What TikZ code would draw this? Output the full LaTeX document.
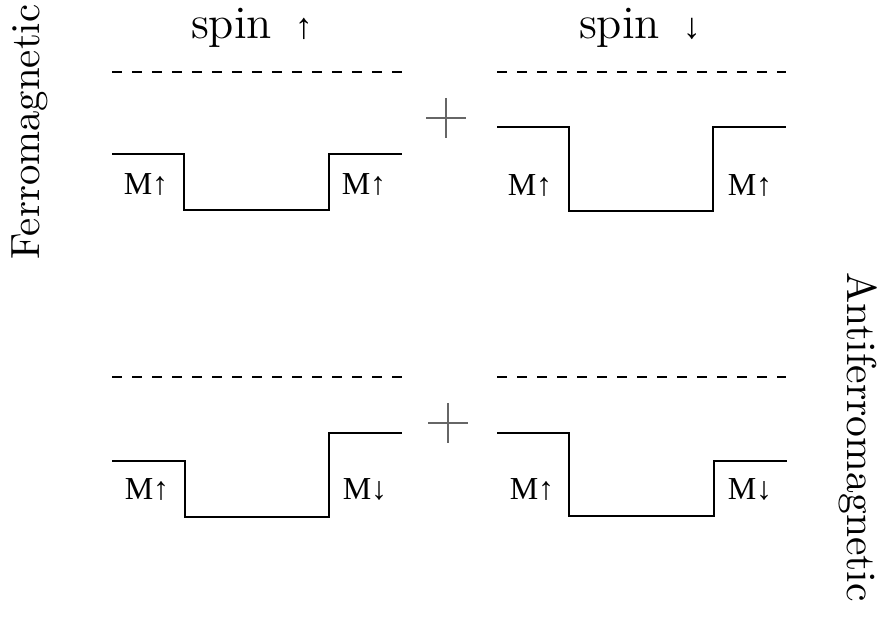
\documentclass[tikz,border=0pt]{standalone}
\usepackage{fontspec}
\newfontfamily\mfont{Liberation Serif}
\usetikzlibrary{positioning}

\begin{document}
\begin{tikzpicture}[x=0.25pt, y=-0.25pt,
    level/.style={line width=0.55pt},
    vacuum/.style={line width=0.55pt, dash pattern=on 2.5pt off 2.5pt},
    mlabel/.style={font=\fontsize{8}{9}\mfont, inner sep=0pt},
    sidelabel/.style={font=\fontsize{10.2}{12}\selectfont, inner sep=0pt},
    plussign/.style={draw=black!60, line width=0.55pt}]
    \useasboundingbox (0,0) rectangle (889,630);

    % Column titles
    \node[font=\fontsize{11.6}{14}\selectfont] (spinup) at (252,28) {spin\, {\mfont\fontsize{9}{10}\selectfont ↑}};
    \node[font=\fontsize{11.6}{14}\selectfont] (spindn) at (640,28) {spin\, {\mfont\fontsize{9}{10}\selectfont ↓}};

    % Side titles
    \node[sidelabel, rotate=90] (ferro) at (30,132) {Ferromagnetic};
    \node[sidelabel, rotate=-90, font=\fontsize{10.4}{12}\selectfont] (antiferro) at (858,437) {Antiferromagnetic};

    % Vacuum levels
    \draw[vacuum] (112,72) -- (402,72);
    \draw[vacuum] (497,72) -- (786,72);
    \draw[vacuum] (112,377) -- (402,377);
    \draw[vacuum] (497,377) -- (786,377);

    % Ferromagnetic wells
    \draw[level] (112,154) -- (184,154) -- (184,210) -- (329,210) -- (329,154) -- (402,154);
    \draw[level] (497,127) -- (569,127) -- (569,211) -- (713,211) -- (713,127) -- (786,127);

    % Antiferromagnetic wells
    \draw[level] (112,461) -- (185,461) -- (185,517) -- (329,517) -- (329,433) -- (402,433);
    \draw[level] (497,433) -- (569,433) -- (569,516) -- (714,516) -- (714,461) -- (787,461);

    % Plus signs
    \coordinate (ptop) at (446,118);
    \coordinate (pbot) at (448,423);
    \draw[plussign] (ptop) ++(-20,0) -- ++(40,0);
    \draw[plussign] (ptop) ++(0,-20) -- ++(0,40);
    \draw[plussign] (pbot) ++(-20,0) -- ++(40,0);
    \draw[plussign] (pbot) ++(0,-20) -- ++(0,40);

    % Magnetisation labels
    \node[mlabel] (m1) at (146,185) {M↑};
    \node[mlabel] (m2) at (364,185) {M↑};
    \node[mlabel] (m3) at (530,186) {M↑};
    \node[mlabel] (m4) at (750,186) {M↑};
    \node[mlabel] (m5) at (147,490) {M↑};
    \node[mlabel] (m6) at (365,490) {M↓};
    \node[mlabel] (m7) at (532,490) {M↑};
    \node[mlabel] (m8) at (750,490) {M↓};
\end{tikzpicture}
\end{document}
